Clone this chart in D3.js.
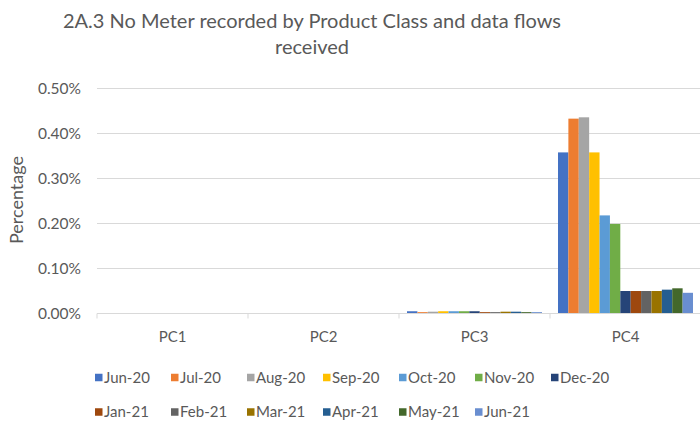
<!DOCTYPE html>
<html>
<head>
<meta charset="utf-8">
<script src="https://cdn.jsdelivr.net/npm/d3@7"></script>
<style>
  html, body { margin: 0; padding: 0; background: #fff; }
  svg { display: block; }
  text { font-family: Lato, "Open Sans", sans-serif; fill: #595959; }
</style>
</head>
<body>
<div id="chart"></div>
<script>
const categories = ["PC1", "PC2", "PC3", "PC4"];
const seriesNames = ["Jun-20","Jul-20","Aug-20","Sep-20","Oct-20","Nov-20","Dec-20",
                     "Jan-21","Feb-21","Mar-21","Apr-21","May-21","Jun-21"];
const seriesColors = ["#4472C4","#ED7D31","#A5A5A5","#FFC000","#5B9BD5","#70AD47","#264478",
                      "#9E480E","#636363","#997300","#255E91","#43682B","#698ED0"];
// values in percent, one array per product class, ordered as seriesNames
const pc1Values = [0,0,0,0,0,0,0,0,0,0,0,0,0];
const pc2Values = [0,0,0,0,0,0,0,0,0,0,0,0,0];
const pc3Values = [0.005,0.003,0.004,0.005,0.005,0.005,0.005,0.003,0.003,0.004,0.004,0.003,0.003];
const pc4Values = [0.358,0.433,0.436,0.358,0.218,0.199,0.050,0.050,0.050,0.050,0.053,0.056,0.046];
const yTicks = [0, 0.1, 0.2, 0.3, 0.4, 0.5];
const titleLines = ["2A.3 No Meter recorded by Product Class and data flows", "received"];
const yTitle = "Percentage";

const valuesByCat = [pc1Values, pc2Values, pc3Values, pc4Values];

const W = 700, H = 425;
const svg = d3.select("#chart").append("svg").attr("width", W).attr("height", H);

const x0 = d3.scaleBand().domain(categories).range([97, 701]).paddingInner(0).paddingOuter(0);
const x1 = d3.scaleBand().domain(seriesNames).range([8, x0.bandwidth() - 8]).padding(0);
const y = d3.scaleLinear().domain([0, 0.5]).range([313.5, 88.5]);

// gridlines
svg.append("g").selectAll("line").data(yTicks.slice(1)).join("line")
  .attr("x1", 97).attr("x2", 700)
  .attr("y1", d => y(d)).attr("y2", d => y(d))
  .attr("stroke", "#D9D9D9").attr("stroke-width", 1);

// y axis labels
const yAxis = d3.axisLeft(y).tickValues(yTicks).tickSize(0).tickPadding(0)
  .tickFormat(d => d.toFixed(2) + "%");
const ya = svg.append("g").attr("transform", "translate(81,0)").call(yAxis);
ya.select(".domain").remove();
ya.selectAll("text").attr("font-size", 15.5).attr("fill", "#595959")
  .style("font-family", "Lato, 'Open Sans', sans-serif").attr("dy", "0.35em");

// bars
const groups = svg.append("g").selectAll("g").data(categories).join("g")
  .attr("transform", d => `translate(${x0(d)},0)`);
groups.selectAll("rect")
  .data((d, i) => valuesByCat[i].map((v, j) => ({ name: seriesNames[j], v, c: seriesColors[j] })))
  .join("rect")
  .attr("x", d => x1(d.name))
  .attr("width", x1.bandwidth())
  .attr("y", d => y(d.v))
  .attr("height", d => y(0) - y(d.v))
  .attr("fill", d => d.c);

// x axis
const xAxis = d3.axisBottom(x0).tickSize(0).tickPadding(18);
const xa = svg.append("g").attr("transform", `translate(0,${y(0)})`).call(xAxis);
xa.select(".domain").attr("stroke", "#D9D9D9").attr("d", `M97,0H700`);
xa.selectAll("text").attr("font-size", 15).attr("fill", "#595959")
  .style("font-family", "Lato, 'Open Sans', sans-serif");
// category boundary ticks
svg.append("g").selectAll("line").data(categories.concat(["end"])).join("line")
  .attr("x1", (d, i) => 97 + i * x0.step()).attr("x2", (d, i) => 97 + i * x0.step())
  .attr("y1", y(0)).attr("y2", y(0) + 5)
  .attr("stroke", "#D9D9D9");

// title
svg.append("g").selectAll("text").data(titleLines).join("text")
  .attr("x", 312).attr("y", (d, i) => 28 + i * 26)
  .attr("text-anchor", "middle").attr("font-size", 20).attr("fill", "#595959")
  .text(d => d);

// y axis title
svg.append("text")
  .attr("transform", "translate(23,200) rotate(-90)")
  .attr("text-anchor", "middle").attr("font-size", 18).attr("fill", "#595959")
  .text(yTitle);

// legend
const legend = svg.append("g").selectAll("g").data(seriesNames).join("g")
  .attr("transform", (d, i) => `translate(${95 + (i % 7) * 76},${i < 7 ? 377.5 : 412})`);
legend.append("rect").attr("x", 0).attr("y", -3.75).attr("width", 7.5).attr("height", 7.5)
  .attr("fill", (d, i) => seriesColors[i]);
legend.append("text").attr("x", 9).attr("y", 0).attr("dy", "0.35em")
  .attr("font-size", 15).attr("fill", "#595959").text(d => d);
</script>
</body>
</html>
